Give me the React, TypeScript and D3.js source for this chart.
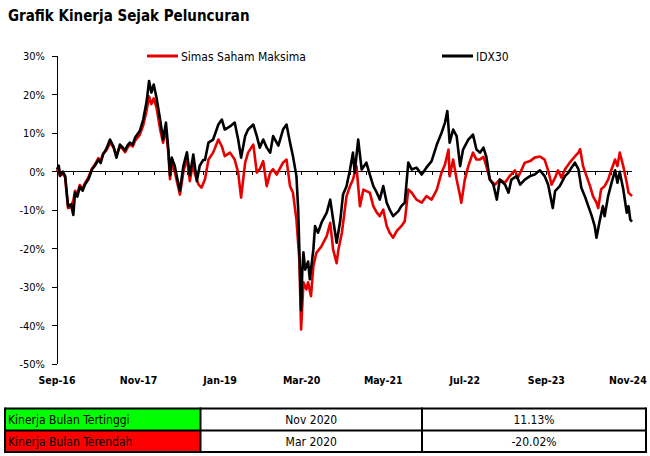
import React, { useEffect, useRef } from 'react';
import * as d3 from 'd3';

// months since Sep-2016, value in %
const fundSeries: [number, number][] = [
  [0, 0], [0.3, 1], [0.5, -1.2], [1.0, -0.5], [1.4, -1.5], [1.9, -9.5], [2.4, -9.3], [2.8, -7.5],
  [3.1, -5], [3.5, -6], [3.9, -3.5], [4.4, -4.5], [4.8, -3], [5.4, -1.5], [6.0, 0.8], [6.5, 1.8],
  [7.1, 3.5], [7.5, 2.8], [7.9, 4.6], [8.5, 5.5], [9.1, 7.5], [9.7, 6.2], [10.2, 4.2], [10.8, 6.5],
  [11.3, 5.8], [11.7, 5], [12.1, 6.2], [12.5, 7], [13.0, 6.5], [13.4, 8], [14.2, 9.5], [14.8, 12],
  [15.4, 16], [15.8, 19.5], [16.2, 17.5], [16.6, 19], [17.1, 16.5], [17.7, 11], [18.2, 7.5], [18.7, 11],
  [19.1, 5], [19.4, -2], [19.7, 2], [20.2, 0], [20.8, -4], [21.1, -6], [21.7, 0], [22.3, 3.5],
  [22.8, -2.5], [23.4, 2.5], [23.7, -0.8], [24.3, -3.4], [24.8, -4.2], [25.4, -2], [26.0, 3.1], [26.8, 4.9],
  [27.7, 8.3], [28.3, 6.5], [28.8, 4.0], [29.7, 4.9], [30.5, 3.1], [31.1, -0.3], [31.6, -6.8], [32.3, 2.3],
  [32.8, 4.9], [33.7, 7], [34.3, -0.3], [34.8, 0.6], [35.4, 2.7], [36.0, -3.8], [36.6, -0.3], [37.1, 0.6],
  [37.7, -0.8], [38.8, 2.3], [39.4, 3.1], [40.0, -3.8], [40.5, -5.5], [41.1, -12.5], [41.6, -22.9], [41.9, -41],
  [42.3, -28.8], [42.8, -30.6], [43.1, -28.8], [43.6, -32.4], [44.0, -24.6], [44.5, -21.2], [45.4, -19.4], [46.3, -16.8],
  [46.9, -13.3], [47.4, -20.3], [48.0, -23.8], [48.3, -20.3], [48.9, -15.9], [49.7, -6.4], [50.3, -3.8], [50.8, -2.1],
  [51.4, 1.4], [52.0, -9.0], [52.6, -4.7], [53.1, -5.1], [53.7, -5.5], [54.3, -9.0], [54.9, -10.7], [55.4, -11.6],
  [56.0, -9.9], [56.6, -14.2], [57.1, -15.9], [57.7, -17.2], [58.3, -15.5], [59.1, -14.2], [59.7, -12.9], [60.3, -4.7],
  [60.9, -5.5], [61.7, -7.3], [62.6, -8.1], [63.4, -6.4], [64.3, -7.3], [65.2, -4.7], [66.0, -0.3], [66.6, 1.8],
  [67.2, 5.7], [67.4, -1.2], [68.0, 3.1], [68.6, -2.1], [69.2, -6.4], [69.4, -8.1], [70.0, -2.1], [70.6, 1.4],
  [71.4, 4.9], [72.0, 3.1], [72.6, 3.1], [73.2, 3.8], [73.7, 1.4], [74.3, -2.1], [75.2, -3.4], [76.0, -2.1],
  [76.9, -2.9], [77.7, -1.2], [78.6, 0.3], [79.1, -1.6], [79.7, 0.3], [80.3, 2.3], [81.2, 2.7], [82.0, 3.6],
  [82.9, 3.9], [83.7, 3.1], [84.3, 0.3], [84.9, -3.4], [85.5, -1.6], [86.0, 0.3], [86.6, -1.6], [87.2, 0.6],
  [88.0, 2.3], [88.9, 3.9], [89.5, 4.9], [89.8, 5.8], [90.3, 1.4], [90.9, -1.2], [91.5, -3.8], [92.0, -6.4],
  [92.6, -8.1], [92.9, -9.5], [93.4, -4.6], [94.0, -3.8], [94.6, -2.1], [95.2, 0.6], [95.8, 3.1], [96.2, 1.4],
  [96.6, 4.9], [97.2, 1.4], [97.8, -2.9], [98.1, -5.5], [98.7, -6.4],
];

const idxSeries: [number, number][] = [
  [0, 0.5], [0.3, 1.5], [0.5, -1], [1.0, 0], [1.4, -1.2], [1.9, -9], [2.4, -8.5], [2.8, -11.3],
  [3.1, -5.5], [3.5, -6.5], [3.9, -4], [4.4, -5], [4.8, -3.4], [5.4, -2], [6.0, 0.5], [6.5, 1.5],
  [7.1, 3], [7.5, 2.2], [7.9, 4.4], [8.5, 6], [9.1, 8.3], [9.7, 6.5], [10.2, 3.6], [10.8, 7],
  [11.3, 6.2], [11.7, 5.5], [12.1, 6.8], [12.5, 7.5], [13.0, 7.0], [13.4, 8.8], [14.2, 10.5], [14.8, 13.5],
  [15.4, 18.3], [15.8, 23.5], [16.2, 20.5], [16.6, 22.6], [17.1, 19], [17.7, 13.5], [18.2, 8.3], [18.7, 12.7],
  [19.1, 6], [19.4, -1], [19.7, 3.6], [20.2, 1.5], [20.8, -3], [21.1, -5], [21.7, 1.5], [22.3, 5],
  [22.8, -1], [23.4, 4.4], [24.0, -2.5], [24.5, 1.5], [25.1, 3], [25.4, 3], [26.0, 7.5], [26.8, 8.3],
  [27.7, 12.2], [28.3, 13.5], [28.8, 10.9], [29.7, 11.7], [30.5, 12.7], [31.1, 8.3], [31.6, 3.6], [32.3, 9.2],
  [32.8, 10.9], [33.7, 12.2], [34.3, 9.2], [34.8, 6.2], [35.4, 8.3], [36.0, 6.2], [36.6, 4.9], [37.1, 9.2],
  [38.0, 6.7], [38.8, 10.9], [39.4, 12.2], [40.0, 7.5], [40.5, 4.0], [41.1, -1.2], [41.4, -9.9], [41.6, -20.3],
  [41.9, -36], [42.1, -26], [42.3, -21], [42.6, -25.5], [43.1, -23.4], [43.4, -28], [44.0, -20.3], [44.3, -14.2],
  [44.8, -15.9], [45.4, -13.3], [46.3, -10.7], [46.9, -7.3], [47.4, -12.5], [48.0, -18.5], [48.6, -13], [49.1, -6],
  [49.7, -3.8], [50.3, 0.5], [50.8, 4.9], [51.1, -0.3], [51.7, 8.3], [52.3, 0.5], [53.1, 2.3], [53.7, -0.8],
  [54.3, -3.8], [54.9, -5.5], [55.4, -7.3], [56.0, -3.8], [56.6, -8.1], [57.1, -9.9], [57.7, -11.6], [58.6, -10.3],
  [59.1, -9.0], [59.7, -8.1], [60.3, 2.3], [60.9, 0.5], [61.7, 1.0], [62.6, -0.8], [63.4, 1.0], [64.3, 2.7],
  [65.2, 7], [66.0, 10], [66.6, 12.7], [67.0, 15.7], [67.4, 7.5], [68.0, 10.9], [68.6, 9.2], [69.2, 1.4],
  [69.7, 5.7], [70.6, 8.3], [71.4, 9.6], [72.0, 5.7], [72.6, 4.9], [73.2, 6.2], [73.7, 3.8], [74.3, -2.1],
  [74.9, -3.4], [75.5, -7.3], [76.0, -2.1], [76.9, -3.4], [77.5, -5.5], [78.0, -2.1], [78.9, -1.2], [79.5, -3.4],
  [80.3, -2.1], [81.2, -1.2], [82.0, -0.8], [82.9, 0.3], [83.7, -1.2], [84.3, -3.4], [84.7, -6.4], [85.1, -9.5],
  [85.5, -5.1], [86.3, -3.8], [87.2, -1.2], [87.8, -0.3], [88.3, 1.0], [88.9, 2.3], [89.5, 0.6], [90.0, -4.2],
  [90.6, -6.4], [91.2, -9.0], [91.8, -11.6], [92.3, -14.2], [92.6, -17.2], [93.2, -12.5], [93.7, -9.0], [94.0, -11.6],
  [94.6, -6.4], [95.2, -2.9], [95.8, 0.3], [96.2, -2.9], [96.6, -0.1], [97.2, -4.6], [97.8, -10.7], [98.1, -9.0],
  [98.4, -12.5], [98.7, -13],
];

const xTickMonths = [0, 14, 28, 42, 56, 70, 84, 98];
const xTickLabels = ['Sep-16', 'Nov-17', 'Jan-19', 'Mar-20', 'May-21', 'Jul-22', 'Sep-23', 'Nov-24'];
const yTicks = [30, 20, 10, 0, -10, -20, -30, -40, -50];

const seriesNames = ['Simas Saham Maksima', 'IDX30'];
const seriesColors = ['#e60000', '#000000'];

const tableRows = [
  { label: 'Kinerja Bulan Tertinggi', month: 'Nov 2020', value: '11.13%', fill: '#00ff00' },
  { label: 'Kinerja Bulan Terendah', month: 'Mar 2020', value: '-20.02%', fill: '#ff0000' },
];

const FONT = "'DejaVu Sans Condensed', 'DejaVu Sans', sans-serif";

const App: React.FC = () => {
  const svgRef = useRef<SVGSVGElement>(null);

  useEffect(() => {
    if (!svgRef.current) return;
    const svg = d3.select(svgRef.current);
    svg.selectAll('*').remove();

    const x = d3.scaleLinear().domain([0, 98.7]).range([57, 632]);
    const y = d3.scaleLinear().domain([-50, 30]).range([364, 56]);

    // title
    svg.append('text')
      .attr('x', 8).attr('y', 21)
      .style('font-family', FONT).style('font-size', '15px').style('font-weight', 'bold')
      .text('Grafik Kinerja Sejak Peluncuran');

    // y axis
    svg.append('line')
      .attr('x1', x(0)).attr('x2', x(0))
      .attr('y1', y(30)).attr('y2', y(-50))
      .attr('stroke', '#000').attr('stroke-width', 1).attr('shape-rendering', 'crispEdges');

    const yt = svg.append('g');
    yTicks.forEach(v => {
      yt.append('line')
        .attr('x1', x(0) - 5).attr('x2', x(0))
        .attr('y1', y(v)).attr('y2', y(v))
        .attr('stroke', '#000').attr('shape-rendering', 'crispEdges');
      yt.append('text')
        .attr('x', 45).attr('y', y(v) + 4)
        .attr('text-anchor', 'end')
        .style('font-family', FONT).style('font-size', '11px')
        .text(`${v}%`);
    });

    // zero line with minor ticks
    svg.append('line')
      .attr('x1', x(0)).attr('x2', x(98.7))
      .attr('y1', y(0)).attr('y2', y(0))
      .attr('stroke', '#000').attr('stroke-width', 1).attr('shape-rendering', 'crispEdges');

    d3.range(0, 98.8, 2.8).forEach(m => {
      svg.append('line')
        .attr('x1', x(m)).attr('x2', x(m))
        .attr('y1', y(0)).attr('y2', y(0) + 3)
        .attr('stroke', '#000').attr('shape-rendering', 'crispEdges');
    });

    // x labels
    xTickMonths.forEach((m, i) => {
      svg.append('text')
        .attr('x', x(m)).attr('y', 384)
        .attr('text-anchor', 'middle')
        .style('font-family', FONT).style('font-size', '10.5px').style('font-weight', 'bold')
        .text(xTickLabels[i]);
    });

    const line = d3.line<[number, number]>()
      .x(d => x(d[0]))
      .y(d => y(d[1]));

    [fundSeries, idxSeries].forEach((s, i) => {
      svg.append('path')
        .datum(s)
        .attr('d', line)
        .attr('fill', 'none')
        .attr('stroke', seriesColors[i])
        .attr('stroke-width', 2.6)
        .attr('stroke-linejoin', 'round');
    });

    // legend
    const legendPos = [147, 442];
    seriesNames.forEach((name, i) => {
      const lx = legendPos[i];
      svg.append('line')
        .attr('x1', lx).attr('x2', lx + 31)
        .attr('y1', 56).attr('y2', 56)
        .attr('stroke', seriesColors[i]).attr('stroke-width', 3);
      svg.append('text')
        .attr('x', lx + 34).attr('y', 60.5)
        .style('font-family', FONT).style('font-size', '12px')
        .text(name);
    });

    // table
    const colX = [5, 200.5, 422, 646];
    const rowY = [408.5, 430.5, 452];
    const tbl = svg.append('g');
    tableRows.forEach((r, i) => {
      tbl.append('rect')
        .attr('x', colX[0]).attr('y', rowY[i])
        .attr('width', colX[1] - colX[0]).attr('height', rowY[i + 1] - rowY[i])
        .attr('fill', r.fill);
      tbl.append('text')
        .attr('x', 8).attr('y', rowY[i] + 15.5)
        .style('font-family', FONT).style('font-size', '12px')
        .text(r.label);
      tbl.append('text')
        .attr('x', (colX[1] + colX[2]) / 2).attr('y', rowY[i] + 15.5)
        .attr('text-anchor', 'middle')
        .style('font-family', FONT).style('font-size', '12px')
        .text(r.month);
      tbl.append('text')
        .attr('x', (colX[2] + colX[3]) / 2).attr('y', rowY[i] + 15.5)
        .attr('text-anchor', 'middle')
        .style('font-family', FONT).style('font-size', '12px')
        .text(r.value);
    });
    rowY.forEach(ry => {
      tbl.append('line')
        .attr('x1', colX[0]).attr('x2', colX[3])
        .attr('y1', ry).attr('y2', ry)
        .attr('stroke', '#000').attr('stroke-width', 2);
    });
    colX.forEach(cx => {
      tbl.append('line')
        .attr('x1', cx).attr('x2', cx)
        .attr('y1', rowY[0] - 1).attr('y2', rowY[2] + 1)
        .attr('stroke', '#000').attr('stroke-width', 2);
    });
  }, []);

  return (
    <svg ref={svgRef} width={650} height={456}
      style={{ position: 'absolute', left: 0, top: 0, display: 'block', background: '#fff' }} />
  );
};

export default App;
